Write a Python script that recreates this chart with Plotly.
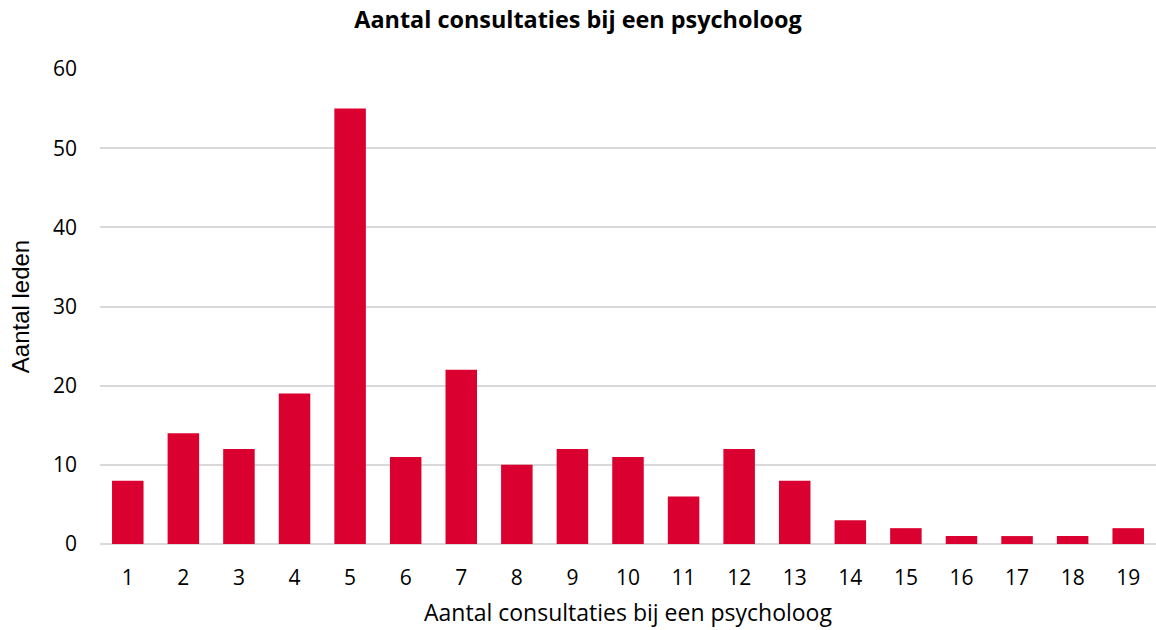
import plotly.graph_objects as go

categories = [str(i) for i in range(1, 20)]
values = [8, 14, 12, 19, 55, 11, 22, 10, 12, 11, 6, 12, 8, 3, 2, 1, 1, 1, 2]
title = "Aantal consultaties bij een psycholoog"
x_title = "Aantal consultaties bij een psycholoog"
y_title = "Aantal leden"
y_ticks = [0, 10, 20, 30, 40, 50, 60]

FONT = "Open Sans, Liberation Sans, sans-serif"

fig = go.Figure(go.Bar(x=categories, y=values, marker=dict(color="#DA0030", line=dict(width=0))))

fig.update_layout(
    width=1156, height=630,
    margin=dict(l=100, r=0, t=69, b=86),
    paper_bgcolor="white", plot_bgcolor="white",
    bargap=0.433,
    showlegend=False,
    font=dict(family=FONT, size=21, color="#000000"),
    title=dict(text="<b>" + title + "</b>", x=0.5, xref="container", xanchor="center",
               y=0.968, yanchor="middle",
               font=dict(family=FONT, size=23.4, color="#000000")),
)
fig.update_xaxes(
    type="category", showgrid=False, showline=False, ticks="",
    tickfont=dict(size=21), ticklabelstandoff=19,
    title=dict(text=x_title, font=dict(size=23), standoff=14),
)
fig.update_yaxes(
    range=[0, 60], tickvals=y_ticks, showgrid=True, gridcolor="#D9D9D9", gridwidth=1.5,
    zeroline=True, zerolinecolor="#D9D9D9", zerolinewidth=1.5, showline=False, ticks="",
    tickfont=dict(size=21), ticklabelstandoff=22,
    title=dict(text=y_title, font=dict(family="Liberation Sans, Arial, sans-serif", size=24), standoff=16),
)

fig.write_html("out.html")
